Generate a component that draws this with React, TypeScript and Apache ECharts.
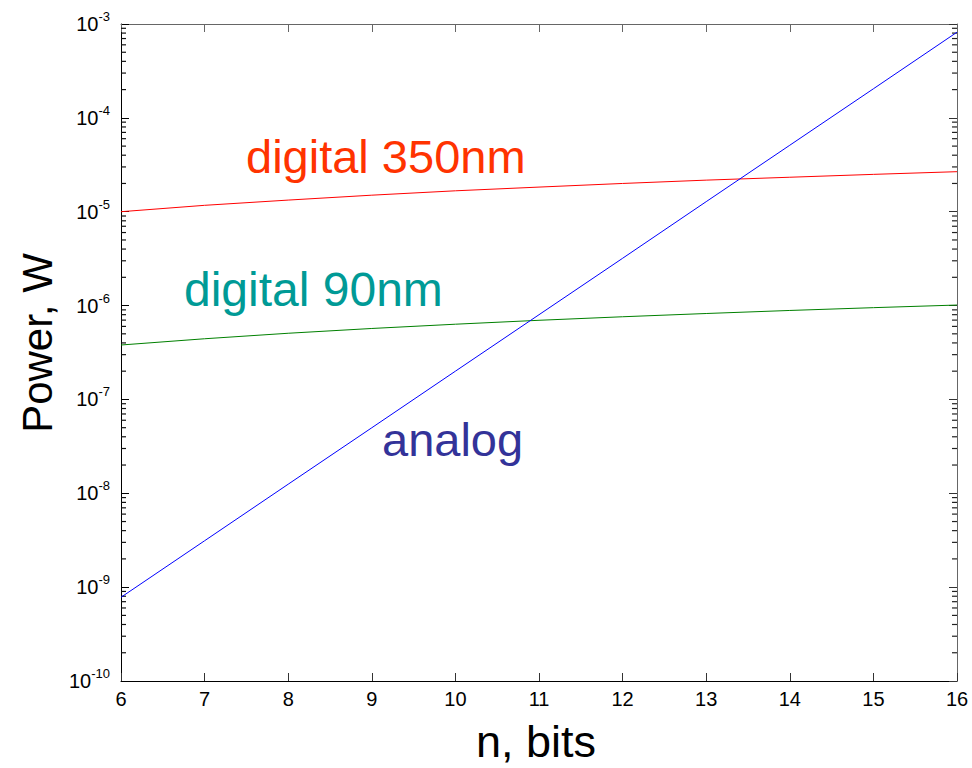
import React, { useEffect, useRef } from "react";
import * as echarts from "echarts";

const bits = [6, 7, 8, 9, 10, 11, 12, 13, 14, 15, 16];
const digital350 = [1.0e-5, 1.17e-5, 1.33e-5, 1.5e-5, 1.67e-5, 1.83e-5, 2.0e-5, 2.17e-5, 2.33e-5, 2.5e-5, 2.67e-5];
const digital90 = [3.8e-7, 4.43e-7, 5.07e-7, 5.7e-7, 6.33e-7, 6.97e-7, 7.6e-7, 8.23e-7, 8.87e-7, 9.5e-7, 1.013e-6];
const analog = [7.8e-10, 3.12e-9, 1.25e-8, 4.99e-8, 2.0e-7, 7.99e-7, 3.19e-6, 1.28e-5, 5.11e-5, 2.04e-4, 8.18e-4];
const yMin = 1e-10;
const yMax = 1e-3;
const xTicks = [6, 7, 8, 9, 10, 11, 12, 13, 14, 15, 16];
const minorDecades = [-10, -9, -8, -7, -6, -5, -4];
const minorMultipliers = [2, 3, 4, 5, 6, 7, 8, 9];

const FONT = "Liberation Sans, Arial, sans-serif";

export default function App() {
  const ref = useRef<HTMLDivElement>(null);
  useEffect(() => {
    if (!ref.current) return;
    const chart = echarts.init(ref.current, null, { renderer: "svg" });
    const minorTicks: number[][] = [];
    minorDecades.forEach((d) =>
      minorMultipliers.forEach((m) => minorTicks.push([xTicks[0], m * Math.pow(10, d)]))
    );
    const pair = (ys: number[]) => bits.map((b, i) => [b, ys[i]]);
    const yLabel = (v: number) => {
      const e = Math.round(Math.log10(v));
      return `{b|10}{s|${e}}`;
    };
    chart.setOption({
      animation: false,
      backgroundColor: "#fff",
      grid: { left: 121, right: 15, top: 24, bottom: 87, containLabel: false },
      xAxis: [
        {
          type: "value",
          min: 6,
          max: 16,
          interval: 1,
          position: "bottom",
          axisLine: { lineStyle: { color: "#000", width: 1 } },
          axisTick: { inside: true, length: 8, lineStyle: { color: "#333" } },
          axisLabel: { fontSize: 20, color: "#000", fontFamily: FONT, margin: 8 },
          splitLine: { show: false },
        },
        {
          type: "value",
          min: 6,
          max: 16,
          interval: 1,
          position: "top",
          axisLine: { lineStyle: { color: "#666", width: 1 } },
          axisTick: { inside: true, length: 8, lineStyle: { color: "#666" } },
          axisLabel: { show: false },
          splitLine: { show: false },
        },
      ],
      yAxis: [
        {
          type: "log",
          logBase: 10,
          min: yMin,
          max: yMax,
          position: "left",
          axisLine: { show: true, lineStyle: { color: "#000", width: 1 } },
          axisTick: { show: true, inside: true, length: 8, lineStyle: { color: "#000", width: 1 } },
          axisLabel: {
            color: "#000",
            fontFamily: FONT,
            margin: 11,
            formatter: yLabel,
            rich: {
              b: { fontSize: 20, fontFamily: FONT, color: "#000" },
              s: { fontSize: 13, fontFamily: FONT, color: "#000", padding: [0, 0, 15, 0] },
            },
          },
          splitLine: { show: false },
        },
        {
          type: "log",
          logBase: 10,
          min: yMin,
          max: yMax,
          position: "right",
          axisLine: { show: true, lineStyle: { color: "#666", width: 1 } },
          axisTick: { show: true, inside: true, length: 8, lineStyle: { color: "#333" } },
          axisLabel: { show: false },
          splitLine: { show: false },
        },
      ],
      series: [
        {
          type: "line",
          name: "digital 350nm",
          data: pair(digital350),
          showSymbol: false,
          lineStyle: { color: "#ff0000", width: 1 },
          itemStyle: { color: "#ff0000" },
        },
        {
          type: "line",
          name: "digital 90nm",
          data: pair(digital90),
          showSymbol: false,
          lineStyle: { color: "#008000", width: 1 },
          itemStyle: { color: "#008000" },
        },
        {
          type: "line",
          name: "analog",
          data: pair(analog),
          showSymbol: false,
          lineStyle: { color: "#0000ff", width: 1 },
          itemStyle: { color: "#0000ff" },
        },
        {
          type: "custom",
          name: "minorTicks",
          silent: true,
          clip: false,
          data: minorTicks,
          renderItem: (params: any, api: any) => {
            const v = api.value(1);
            const l = api.coord([6, v]);
            const r = api.coord([16, v]);
            return {
              type: "group",
              children: [
                { type: "line", shape: { x1: l[0], y1: l[1], x2: l[0] + 5, y2: l[1] }, style: { stroke: "#111", lineWidth: 1.2 } },
                { type: "line", shape: { x1: r[0], y1: r[1], x2: r[0] - 5, y2: r[1] }, style: { stroke: "#222", lineWidth: 1.2 } },
              ],
            };
          },
        },
      ],
      graphic: [
        {
          type: "text",
          x: 246,
          y: 156,
          style: { text: "digital 350nm", fill: "#ff3300", font: `47px ${FONT}`, verticalAlign: "middle", align: "left" },
        },
        {
          type: "text",
          x: 184,
          y: 289,
          style: { text: "digital 90nm", fill: "#009a96", font: `48px ${FONT}`, verticalAlign: "middle", align: "left" },
        },
        {
          type: "text",
          x: 382,
          y: 439,
          style: { text: "analog", fill: "#333399", font: `47px ${FONT}`, verticalAlign: "middle", align: "left" },
        },
        {
          type: "text",
          x: 536,
          y: 741,
          style: { text: "n, bits", fill: "#000", font: `45px ${FONT}`, verticalAlign: "middle", align: "center" },
        },
        {
          type: "text",
          x: 37,
          y: 343,
          rotation: Math.PI / 2,
          style: { text: "Power, W", fill: "#000", font: `42px ${FONT}`, verticalAlign: "middle", align: "center" },
        },
      ],
    });
    return () => chart.dispose();
  }, []);
  return <div ref={ref} style={{ position: "fixed", left: 0, top: 0, width: 972, height: 768 }} />;
}
